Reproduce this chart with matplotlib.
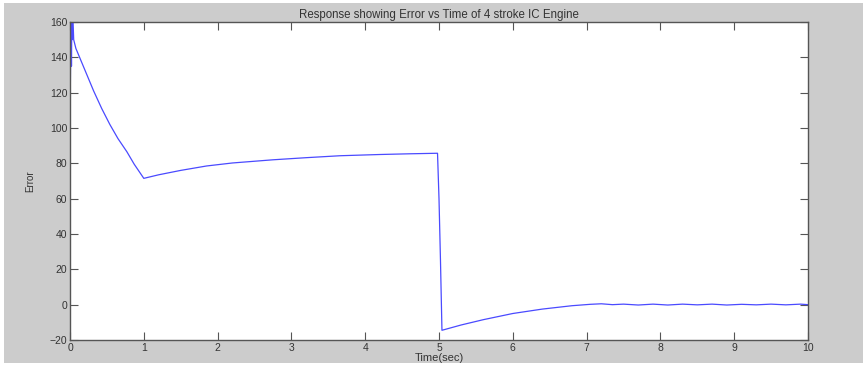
import matplotlib
matplotlib.use('Agg')
from matplotlib import pyplot as plt
from matplotlib.patches import Rectangle

# Error response
time_s = [0.0, 0.005, 0.01, 0.015, 0.02, 0.025, 0.03, 0.04, 0.05, 0.08,
          0.15, 0.25, 0.32, 0.43, 0.54, 0.65, 0.77, 0.87, 1.0,
          1.2, 1.5, 1.85, 2.2, 2.75, 3.2, 3.66, 4.2, 4.6, 4.98,
          5.0, 5.02, 5.04, 5.3, 5.6, 6.0, 6.4, 6.8, 7.05, 7.2, 7.35,
          7.5, 7.7, 7.9, 8.1, 8.3, 8.5, 8.7, 8.9, 9.1, 9.3, 9.5, 9.7, 9.9, 10.0]
error = [100, 125, 150, 168, 135, 165, 150, 162, 150, 145,
         138, 128, 121, 111, 102, 94, 86.6, 79.5, 71.5,
         73.5, 76, 78.5, 80.2, 82, 83.2, 84.3, 85, 85.4, 85.7,
         60, 25, -14.5, -11.5, -8.5, -5, -2.5, -0.6, 0.2, 0.5, 0.0,
         0.3, -0.2, 0.3, -0.2, 0.3, -0.1, 0.3, -0.2, 0.2, -0.1, 0.3, -0.1, 0.3, 0.0]

xticks = list(range(0, 11))
yticks = list(range(-20, 161, 20))

plt.rcParams['font.family'] = ['Liberation Sans', 'DejaVu Sans']

fig = plt.figure(figsize=(8.63, 3.72), dpi=100, facecolor='white')
# grey MATLAB figure area, behind the axes
fig.patches.append(Rectangle((4 / 863, 9 / 372), 859 / 863, 360 / 372,
                             transform=fig.transFigure, facecolor='#cccccc',
                             edgecolor='none', zorder=-5))

ax = fig.add_axes([70 / 863, 32 / 372, 738 / 863, 318 / 372])
ax.set_facecolor('white')
ax.plot(time_s, error, color='#4a4aff', linewidth=0.9)

ax.set_xlim(0, 10)
ax.set_ylim(-20, 160)
ax.set_xticks(xticks)
ax.set_yticks(yticks)
ax.tick_params(direction='in', length=6, width=0.8, color='#555555',
               top=True, right=True, labelsize=7.5, pad=2, labelcolor='#333333')
for sp in ax.spines.values():
    sp.set_color('#555555')
    sp.set_linewidth(1.0)

ax.set_title('Response showing Error vs Time of 4 stroke IC Engine',
             fontsize=8.3, color='#333333', pad=3)
ax.set_xlabel('Time(sec)', fontsize=8, color='#333333', labelpad=0)
ax.set_ylabel('Error', fontsize=7, color='#333333', labelpad=10)

fig.savefig('out.png', dpi=100, facecolor=fig.get_facecolor())
